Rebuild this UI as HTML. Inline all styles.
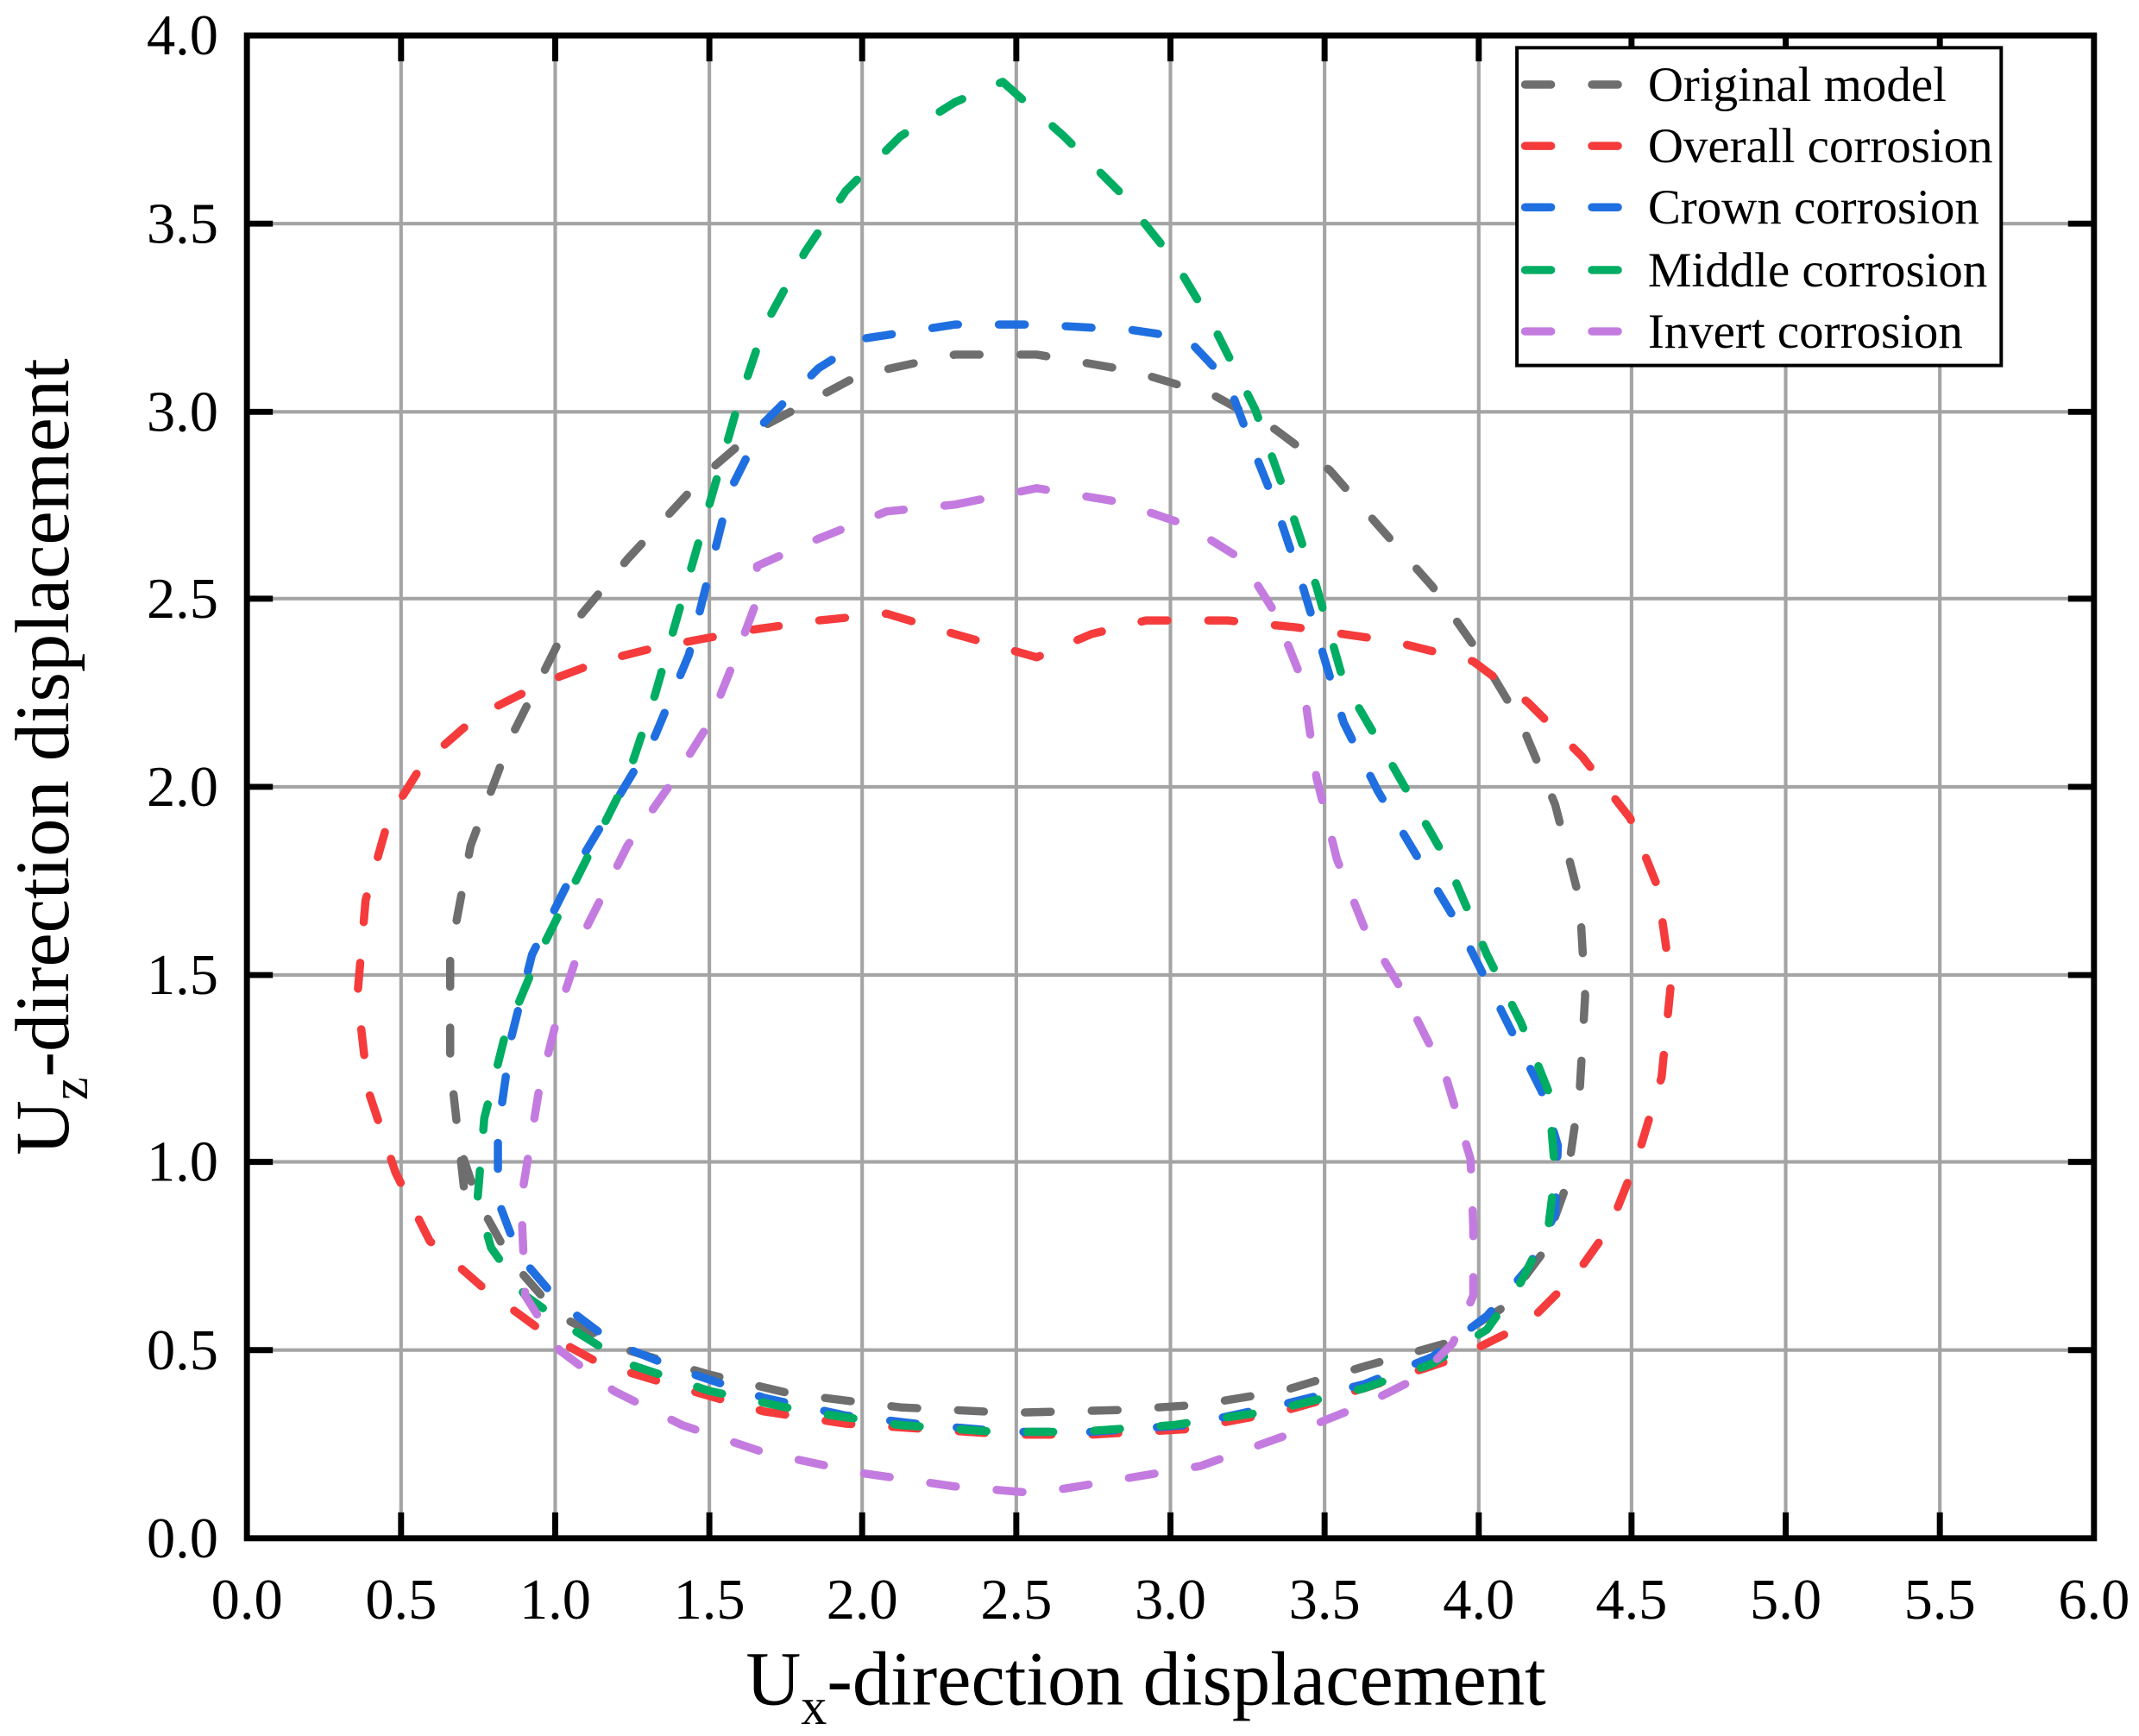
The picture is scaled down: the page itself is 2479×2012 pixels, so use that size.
<!DOCTYPE html>
<html><head><meta charset="utf-8"><style>
html,body{margin:0;padding:0;background:#fff}
svg{display:block}
text{font-family:"Liberation Serif",serif;fill:#000}
</style></head><body>
<svg width="2479" height="2012" viewBox="0 0 1568 1273" preserveAspectRatio="none" xmlns="http://www.w3.org/2000/svg">
<rect width="1568" height="1273" fill="#fff"/>
<g stroke="#a4a4a4" stroke-width="2.6">
<line x1="294" y1="26" x2="294" y2="1128"/><line x1="407" y1="26" x2="407" y2="1128"/>
<line x1="520" y1="26" x2="520" y2="1128"/><line x1="632" y1="26" x2="632" y2="1128"/>
<line x1="745" y1="26" x2="745" y2="1128"/><line x1="858" y1="26" x2="858" y2="1128"/>
<line x1="971" y1="26" x2="971" y2="1128"/><line x1="1084" y1="26" x2="1084" y2="1128"/>
<line x1="1196" y1="26" x2="1196" y2="1128"/><line x1="1309" y1="26" x2="1309" y2="1128"/>
<line x1="1422" y1="26" x2="1422" y2="1128"/>
<line x1="181" y1="990" x2="1535" y2="990"/><line x1="181" y1="852" x2="1535" y2="852"/>
<line x1="181" y1="715" x2="1535" y2="715"/><line x1="181" y1="577" x2="1535" y2="577"/>
<line x1="181" y1="439" x2="1535" y2="439"/><line x1="181" y1="302" x2="1535" y2="302"/>
<line x1="181" y1="164" x2="1535" y2="164"/>
</g>
<g fill="none" stroke-width="6" stroke-dasharray="19,30" stroke-linecap="round" stroke-linejoin="round">
<polyline stroke="#6e6e6e" points="340,870 330,780 330,700 345,620 375,540 410,470 460,410 520,345 555,315 630,275 700,260 760,260 830,272 890,290 935,315 975,345 1010,385 1050,430 1085,480 1115,530 1140,590 1158,660 1162,730 1158,800 1148,870 1130,920 1100,960 1060,985 1000,1002 940,1020 880,1030 820,1034 740,1036 660,1032 580,1022 520,1008 460,990 410,965 375,925 350,880 340,850"/>
<polyline stroke="#f53b3b" points="650,450 700,465 760,482 800,465 840,455 900,455 950,460 1020,470 1080,485 1120,515 1160,555 1195,600 1215,650 1225,720 1218,790 1200,850 1180,900 1155,935 1120,970 1070,995 1000,1018 940,1035 870,1048 800,1052 740,1052 680,1048 620,1044 560,1035 500,1018 440,1000 400,978 355,945 315,910 290,860 270,800 262,730 268,660 285,600 310,560 350,525 400,500 440,485 480,475 550,462 600,455 650,450"/>
<polyline stroke="#1f6fe0" points="635,248 700,238 760,238 830,242 870,248 900,280 915,320 935,370 955,430 970,480 985,530 1010,580 1040,630 1070,680 1090,720 1110,760 1130,800 1142,840 1140,890 1120,930 1090,965 1050,995 1000,1015 940,1030 870,1045 800,1050 740,1050 680,1045 620,1038 560,1025 500,1005 450,985 410,955 380,920 365,880 365,830 375,760 390,700 420,640 450,590 480,540 505,480 520,420 535,360 560,310 600,270 635,248"/>
<polyline stroke="#00ad62" points="735,60 780,100 820,140 860,190 890,240 920,300 945,370 965,430 985,500 1020,560 1060,630 1090,700 1115,750 1135,800 1140,860 1135,900 1115,940 1090,975 1050,1000 1000,1018 930,1035 860,1045 790,1050 730,1050 660,1045 590,1035 520,1020 460,1000 420,975 385,950 360,915 350,880 355,820 370,760 395,700 430,630 460,570 480,510 500,440 520,370 540,300 560,240 590,185 620,140 660,100 700,75 735,60"/>
<polyline stroke="#c47be0" points="700,370 760,358 820,368 870,385 910,410 935,450 955,500 965,570 980,630 1000,680 1030,730 1060,790 1078,850 1080,900 1080,950 1065,985 1040,1010 1000,1030 950,1050 880,1075 820,1085 760,1095 700,1090 630,1080 560,1065 500,1045 450,1020 410,990 385,950 382,880 395,800 410,740 430,680 460,620 495,570 520,530 540,480 555,440 555,415 600,395 650,375 700,370"/>
</g>
<rect x="181" y="26" width="1354" height="1102" fill="none" stroke="#000" stroke-width="4.4"/>
<g stroke="#000" stroke-width="4.4">
<line x1="294" y1="1128" x2="294" y2="1109"/><line x1="407" y1="1128" x2="407" y2="1109"/><line x1="520" y1="1128" x2="520" y2="1109"/><line x1="632" y1="1128" x2="632" y2="1109"/><line x1="745" y1="1128" x2="745" y2="1109"/><line x1="858" y1="1128" x2="858" y2="1109"/><line x1="971" y1="1128" x2="971" y2="1109"/><line x1="1084" y1="1128" x2="1084" y2="1109"/><line x1="1196" y1="1128" x2="1196" y2="1109"/><line x1="1309" y1="1128" x2="1309" y2="1109"/><line x1="1422" y1="1128" x2="1422" y2="1109"/>
<line x1="294" y1="26" x2="294" y2="45"/><line x1="407" y1="26" x2="407" y2="45"/><line x1="520" y1="26" x2="520" y2="45"/><line x1="632" y1="26" x2="632" y2="45"/><line x1="745" y1="26" x2="745" y2="45"/><line x1="858" y1="26" x2="858" y2="45"/><line x1="971" y1="26" x2="971" y2="45"/><line x1="1084" y1="26" x2="1084" y2="45"/><line x1="1196" y1="26" x2="1196" y2="45"/><line x1="1309" y1="26" x2="1309" y2="45"/><line x1="1422" y1="26" x2="1422" y2="45"/>
<line x1="181" y1="990" x2="200" y2="990"/><line x1="181" y1="852" x2="200" y2="852"/><line x1="181" y1="715" x2="200" y2="715"/><line x1="181" y1="577" x2="200" y2="577"/><line x1="181" y1="439" x2="200" y2="439"/><line x1="181" y1="302" x2="200" y2="302"/><line x1="181" y1="164" x2="200" y2="164"/>
<line x1="1535" y1="990" x2="1516" y2="990"/><line x1="1535" y1="852" x2="1516" y2="852"/><line x1="1535" y1="715" x2="1516" y2="715"/><line x1="1535" y1="577" x2="1516" y2="577"/><line x1="1535" y1="439" x2="1516" y2="439"/><line x1="1535" y1="302" x2="1516" y2="302"/><line x1="1535" y1="164" x2="1516" y2="164"/>
</g>
<g font-size="42" text-anchor="middle">
<text x="181" y="1187">0.0</text><text x="294" y="1187">0.5</text><text x="407" y="1187">1.0</text><text x="520" y="1187">1.5</text><text x="632" y="1187">2.0</text><text x="745" y="1187">2.5</text><text x="858" y="1187">3.0</text><text x="971" y="1187">3.5</text><text x="1084" y="1187">4.0</text><text x="1196" y="1187">4.5</text><text x="1309" y="1187">5.0</text><text x="1422" y="1187">5.5</text><text x="1535" y="1187">6.0</text>
</g>
<g font-size="42" text-anchor="end">
<text x="160" y="1142">0.0</text><text x="160" y="1004">0.5</text><text x="160" y="866">1.0</text><text x="160" y="729">1.5</text><text x="160" y="591">2.0</text><text x="160" y="453">2.5</text><text x="160" y="316">3.0</text><text x="160" y="178">3.5</text><text x="160" y="40">4.0</text>
</g>
<text x="840" y="1250" font-size="56" text-anchor="middle">U<tspan font-size="38" dy="14">x</tspan><tspan dy="-14">-direction displacement</tspan></text>
<text transform="translate(50,555) rotate(-90)" font-size="56" text-anchor="middle">U<tspan font-size="38" dy="14">z</tspan><tspan dy="-14">-direction displacement</tspan></text>
<rect x="1112" y="35" width="355" height="233" fill="#fff" stroke="#000" stroke-width="2.5"/>
<g fill="none" stroke-width="6" stroke-dasharray="19,30" stroke-linecap="round">
<line x1="1118" y1="62" x2="1195" y2="62" stroke="#6e6e6e"/>
<line x1="1118" y1="107" x2="1195" y2="107" stroke="#f53b3b"/>
<line x1="1118" y1="152" x2="1195" y2="152" stroke="#1f6fe0"/>
<line x1="1118" y1="198" x2="1195" y2="198" stroke="#00ad62"/>
<line x1="1118" y1="243" x2="1195" y2="243" stroke="#c47be0"/>
</g>
<g font-size="36">
<text x="1208" y="74">Original model</text>
<text x="1208" y="119">Overall corrosion</text>
<text x="1208" y="164">Crown corrosion</text>
<text x="1208" y="210">Middle corrosion</text>
<text x="1208" y="255">Invert corrosion</text>
</g>
</svg>
</body></html>
